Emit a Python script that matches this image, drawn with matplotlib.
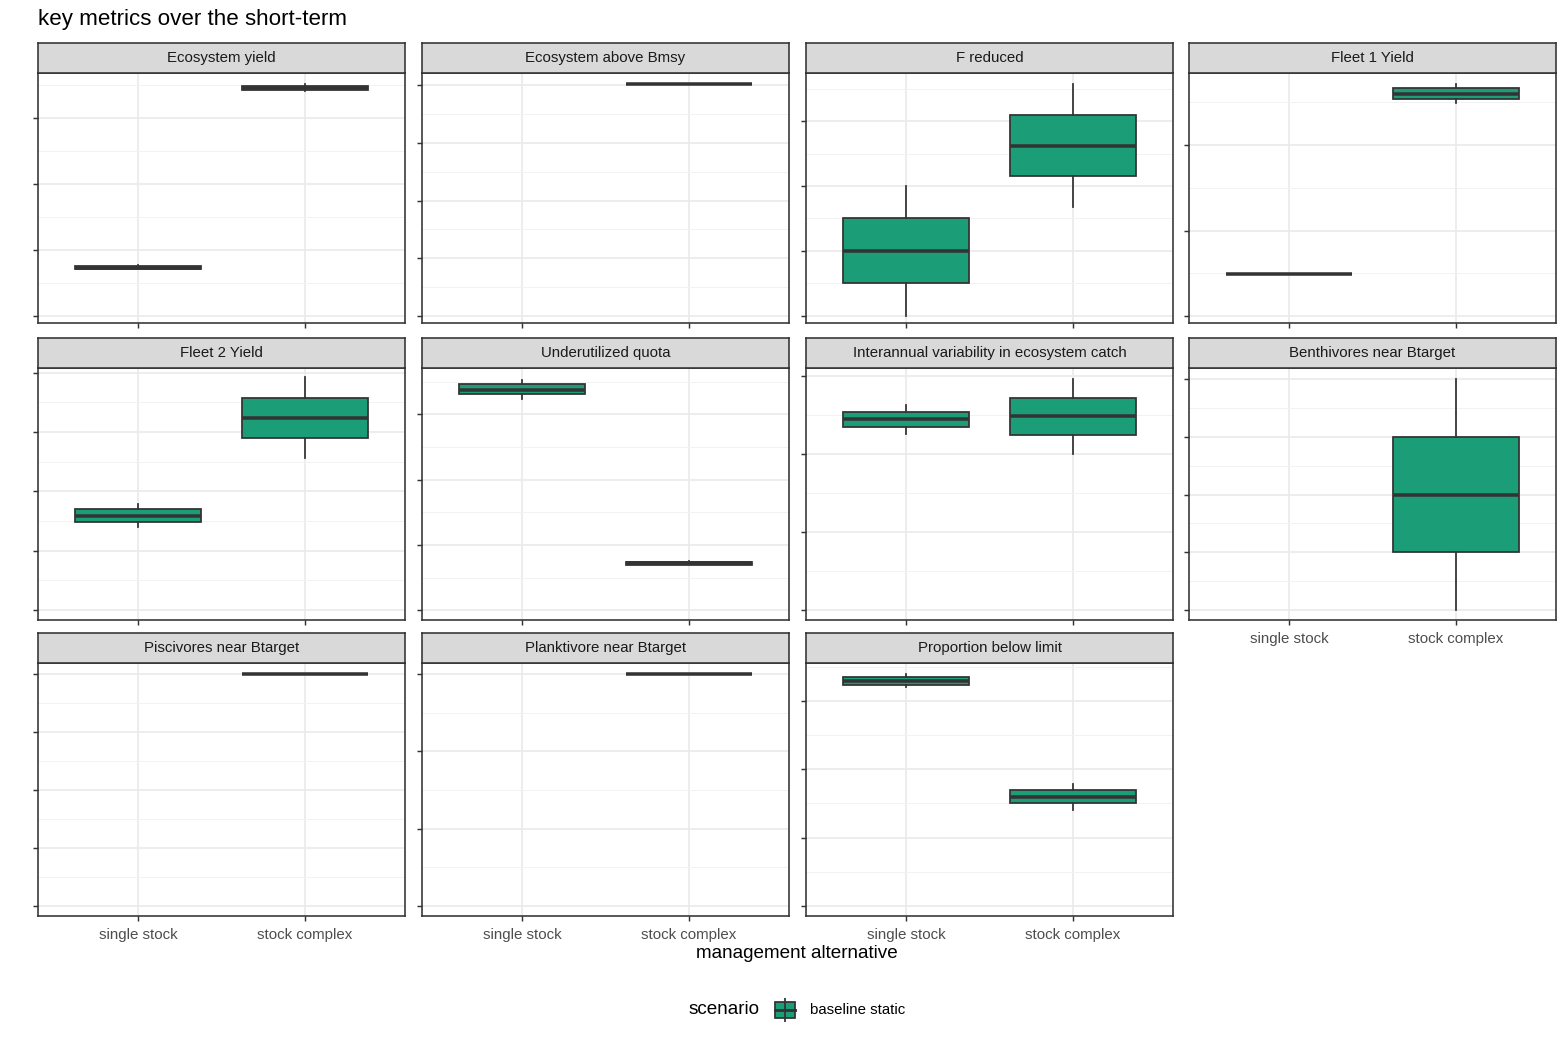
import matplotlib.pyplot as plt
from matplotlib.patches import Rectangle
from matplotlib.lines import Line2D

plt.rcParams["font.family"] = ["Liberation Sans", "DejaVu Sans"]

W, H = 1560, 1040
fig = plt.figure(figsize=(W / 230.77, H / 230.77), dpi=230.77)

alternatives = ["single stock", "stock complex"]
fill = "#1B9E77"
edge = "#333333"

# panel title, number of major ticks, (ymin, ymax), box stats per alternative
# stats: (whislo, q1, med, q3, whishi) or None
titles = ["Ecosystem yield", "Ecosystem above Bmsy", "F reduced", "Fleet 1 Yield",
          "Fleet 2 Yield", "Underutilized quota", "Interannual variability in ecosystem catch",
          "Benthivores near Btarget", "Piscivores near Btarget", "Planktivore near Btarget",
          "Proportion below limit"]
n_ticks = [4, 5, 4, 3, 5, 4, 4, 5, 5, 4, 4]
ylims = [(-0.11, 3.68), (-0.12, 4.21), (-0.11, 3.74), (-0.08, 2.84),
         (-0.17, 4.08), (-0.15, 3.71), (-0.13, 3.10), (-0.17, 4.19),
         (-0.17, 4.19), (-0.13, 3.14), (-0.15, 3.56)]
single_stats = [(0.71, 0.71, 0.73, 0.75, 0.77), None,
                (0.0, 0.51, 1.0, 1.51, 2.0), (0.49, 0.49, 0.49, 0.49, 0.49),
                (1.40, 1.48, 1.59, 1.70, 1.79), (3.23, 3.31, 3.38, 3.46, 3.52),
                (2.26, 2.35, 2.44, 2.54, 2.63), None,
                None, None,
                (3.21, 3.24, 3.29, 3.35, 3.40)]
complex_stats = [(3.40, 3.42, 3.45, 3.48, 3.52), (4.02, 4.02, 4.02, 4.02, 4.02),
                 (1.68, 2.15, 2.62, 3.09, 3.57), (2.49, 2.54, 2.60, 2.67, 2.71),
                 (2.56, 2.90, 3.24, 3.58, 3.92), (0.69, 0.70, 0.72, 0.74, 0.76),
                 (2.0, 2.24, 2.49, 2.72, 2.96), (0.0, 1.0, 2.0, 3.0, 4.0),
                 (4.0, 4.0, 4.0, 4.0, 4.0), (3.0, 3.0, 3.0, 3.0, 3.0),
                 (1.41, 1.51, 1.60, 1.70, 1.79)]

col_x = [38, 422, 806, 1189]
pw = 367
row_strip = [43, 338, 633]
row_bot = [323, 620, 916]
strip_h = 30


def px(x, y, w, h):
    return [x / W, 1 - (y + h) / H, w / W, h / H]


for i, title in enumerate(titles):
    r, c = divmod(i, 4)
    top = row_strip[r] + strip_h
    ax = fig.add_axes(px(col_x[c], top, pw, row_bot[r] - top))
    sax = fig.add_axes(px(col_x[c], row_strip[r], pw, strip_h))
    sax.set_facecolor("#D9D9D9")
    sax.set_xticks([]); sax.set_yticks([])
    for s in sax.spines.values():
        s.set_color(edge); s.set_linewidth(0.5)
    sax.text(0.5, 0.5, title, ha="center", va="center", fontsize=4.7, color="#1A1A1A",
             transform=sax.transAxes)

    stats, pos = [], []
    for k, st in enumerate([single_stats[i], complex_stats[i]]):
        if st is None:
            continue
        lo, q1, med, q3, hi = st
        stats.append(dict(whislo=lo, q1=q1, med=med, q3=q3, whishi=hi, fliers=[]))
        pos.append(k + 1)
    ax.bxp(stats, positions=pos, widths=0.76, patch_artist=True, showcaps=False,
           boxprops=dict(facecolor=fill, edgecolor=edge, linewidth=0.55),
           medianprops=dict(color=edge, linewidth=1.1),
           whiskerprops=dict(color=edge, linewidth=0.55), zorder=3)

    ax.set_yticks(range(n_ticks[i]))
    ax.set_yticks([k + 0.5 for k in range(-1, n_ticks[i])], minor=True)
    ax.set_yticklabels([])
    ax.set_xticks([1, 2])
    ax.set_xlim(0.4, 2.6)
    ax.set_ylim(*ylims[i])
    ax.grid(which="major", color="#EBEBEB", linewidth=0.55, zorder=0)
    ax.grid(which="minor", axis="y", color="#F2F2F2", linewidth=0.3, zorder=0)
    ax.set_axisbelow(True)
    ax.tick_params(axis="both", which="major", length=1.6, width=0.45, color=edge, pad=2)
    ax.tick_params(axis="y", which="minor", length=0)
    bottom_row = (r == 2) or (r == 1 and c == 3)
    if bottom_row:
        ax.set_xticklabels(alternatives, fontsize=4.7, color="#4D4D4D")
    else:
        ax.set_xticklabels([])
    for s in ax.spines.values():
        s.set_color(edge); s.set_linewidth(0.5)

fig.text(38 / W, 1 - 20 / H, "key metrics over the short-term", fontsize=7, va="center")
fig.text(797 / W, 1 - 954 / H, "management alternative", fontsize=5.9, ha="center", va="center")

# legend
fig.text(760 / W, 1 - 1010 / H, "scenario", fontsize=5.9, ha="right", va="center")
lax = fig.add_axes(px(772, 998, 26, 24))
lax.set_xlim(0, 1); lax.set_ylim(0, 1); lax.axis("off")
lax.add_line(Line2D([0.5, 0.5], [0.0, 1.0], color=edge, linewidth=0.55))
lax.add_patch(Rectangle((0.1, 0.18), 0.8, 0.64, facecolor=fill, edgecolor=edge, linewidth=0.55))
lax.add_line(Line2D([0.1, 0.9], [0.5, 0.5], color=edge, linewidth=0.9))
fig.text(810 / W, 1 - 1010 / H, "baseline static", fontsize=4.7, va="center")

fig.savefig("out.png", dpi=230.77)
